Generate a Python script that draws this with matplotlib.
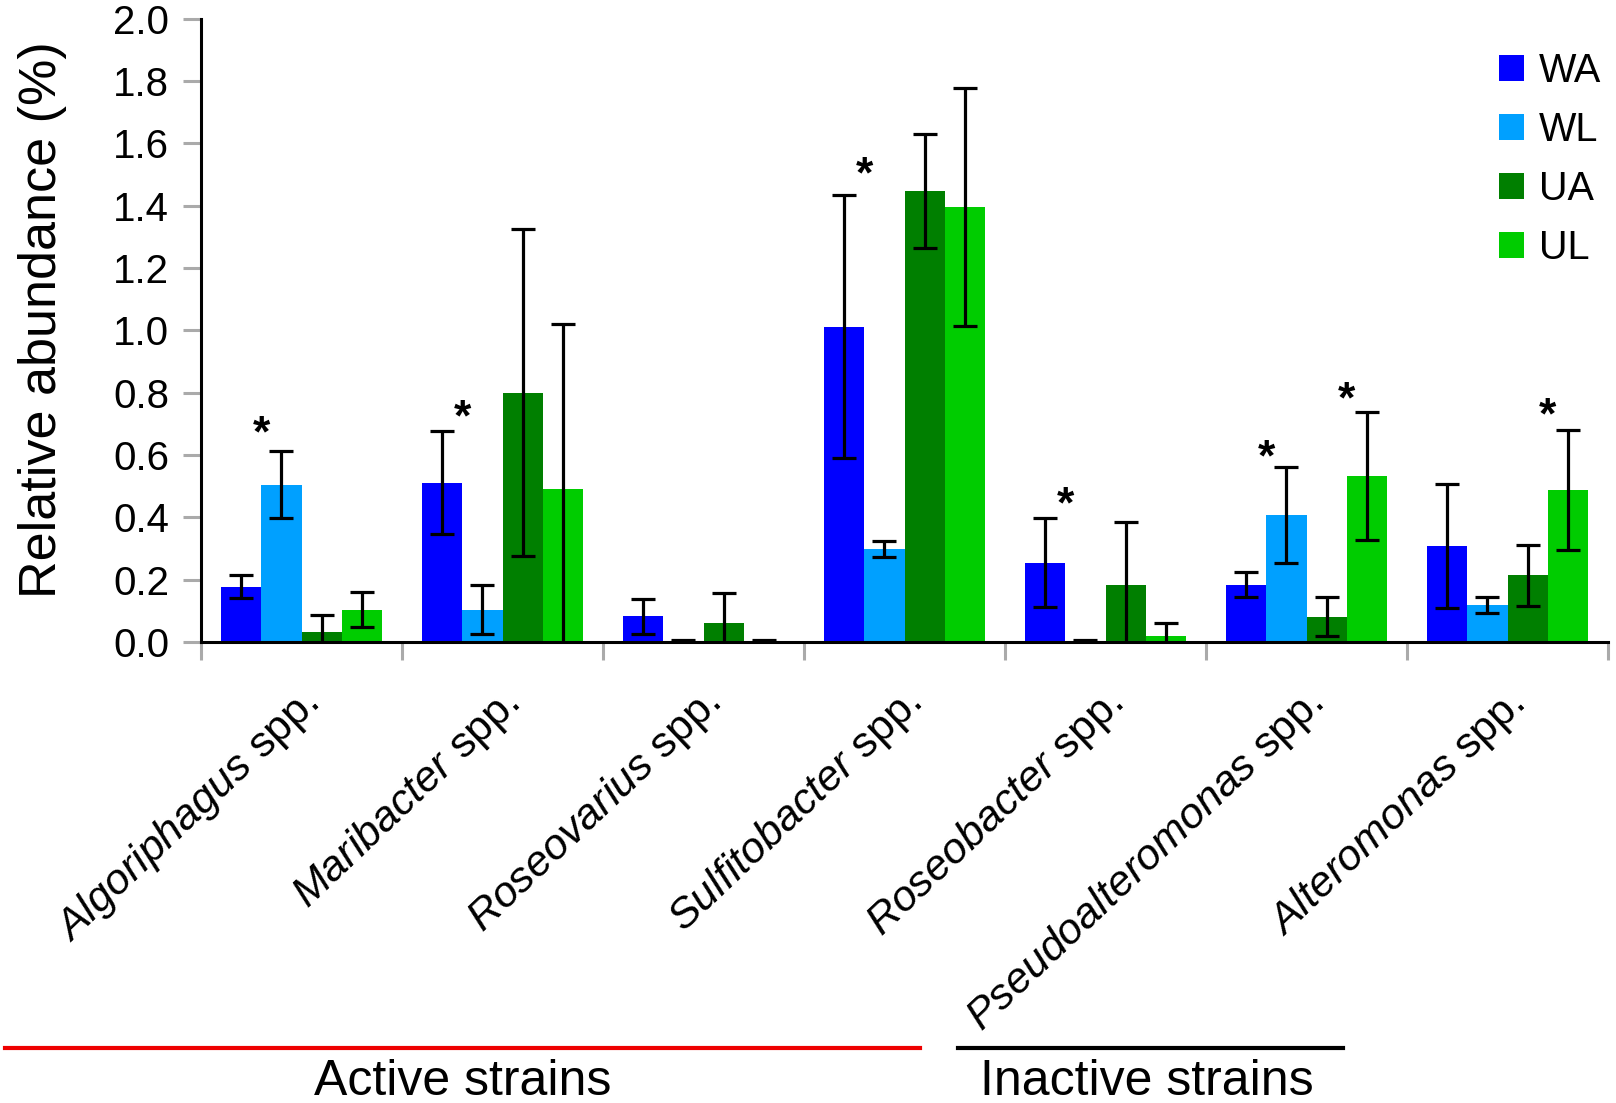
import matplotlib
matplotlib.use("Agg")
import matplotlib.pyplot as plt
from matplotlib import font_manager
from matplotlib.lines import Line2D
from matplotlib.patches import Patch
import numpy as np

# ── data ─────────────────────────────────
genera = ["Algoriphagus", "Maribacter", "Roseovarius", "Sulfitobacter",
          "Roseobacter", "Pseudoalteromonas", "Alteromonas"]
series = ["WA", "WL", "UA", "UL"]

wa = [0.177, 0.511, 0.083, 1.012, 0.255, 0.184, 0.308]
wa_err = [0.037, 0.165, 0.056, 0.422, 0.142, 0.040, 0.198]
wl = [0.505, 0.104, 0.003, 0.298, 0.003, 0.407, 0.119]
wl_err = [0.107, 0.079, 0.002, 0.026, 0.002, 0.155, 0.025]
ua = [0.031, 0.800, 0.062, 1.448, 0.184, 0.081, 0.214]
ua_err = [0.055, 0.525, 0.095, 0.183, 0.200, 0.062, 0.098]
ul = [0.104, 0.490, 0.003, 1.395, 0.019, 0.532, 0.488]
ul_err = [0.055, 0.530, 0.002, 0.382, 0.042, 0.205, 0.192]

# significance stars: (genus index, pair 0 = WA/WL, 1 = UA/UL, height)
star_group = [0, 1, 3, 4, 5, 5, 6]
star_pair = [0, 0, 0, 0, 0, 1, 1]
star_y = [0.695, 0.748, 1.526, 0.467, 0.618, 0.803, 0.752]

colors = ["#0000FF", "#00A0FF", "#007F00", "#00CC00"]

# ── fonts ────────────────────────────────
names = {f.name for f in font_manager.fontManager.ttflist}
base = "Liberation Sans" if "Liberation Sans" in names else "DejaVu Sans"
plt.rcParams["font.family"] = [base, "DejaVu Sans"]
plt.rcParams["mathtext.fontset"] = "custom"
plt.rcParams["mathtext.rm"] = base
plt.rcParams["mathtext.it"] = base + ":italic"

GRAY = "#AAAAAA"
W, H = 1616, 1103

fig = plt.figure(figsize=(W / 100, H / 100), dpi=100)
ax = fig.add_axes([201 / W, 1 - 642 / H, 1407 / W, 623.5 / H])

x = np.arange(len(genera))
w = 0.2
vals = [wa, wl, ua, ul]
errs = [wa_err, wl_err, ua_err, ul_err]
for i, (v, e) in enumerate(zip(vals, errs)):
    pos = x + (i - 1.5) * w
    ax.bar(pos, v, width=w, color=colors[i], edgecolor="none", zorder=2)
    ax.errorbar(pos, v, yerr=e, fmt="none", ecolor="black",
                elinewidth=2.3, capsize=8.3, capthick=2.3, zorder=3)

for g, p, yv in zip(star_group, star_pair, star_y):
    ax.annotate("*", (g - 0.2 + 0.4 * p, yv), xytext=(0, -7),
                textcoords="offset points", ha="center", va="center",
                fontsize=32, fontweight="bold", zorder=4)

ax.set_xlim(-0.5, len(genera) - 0.5)
ax.set_ylim(0, 2.0)
ax.set_yticks(np.arange(0, 2.01, 0.2))
ax.set_yticklabels([f"{t:.1f}" for t in np.arange(0, 2.01, 0.2)])
ax.set_xticks(np.arange(-0.5, len(genera), 1.0))
ax.set_xticklabels([])
ax.tick_params(axis="y", direction="out", length=13, width=2.2, color=GRAY,
               labelsize=29, pad=10)
ax.tick_params(axis="x", direction="out", length=13, width=2.2, color=GRAY)

for s in ["top", "right"]:
    ax.spines[s].set_visible(False)
for s in ["left", "bottom"]:
    ax.spines[s].set_linewidth(2.2)
    ax.spines[s].set_color("black")

ax.set_ylabel("Relative abundance (%)", fontsize=37.5, labelpad=33)
ax.yaxis.label.set_y(0.517)

# rotated genus labels
for xi, name in zip(x, genera):
    ax.text(xi + 0.055, -0.09, rf"$\mathit{{{name}}}\ \mathrm{{spp.}}$",
            rotation=43.5, rotation_mode="anchor", ha="right", va="center",
            fontsize=31, transform=ax.get_xaxis_transform())

# legend
handles = [Patch(facecolor=c, edgecolor="none") for c in colors]
fig.legend(handles, series, loc="upper left",
           bbox_to_anchor=(1499 / W, 1 - 52 / H), frameon=False,
           fontsize=28.5, handlelength=0.63, handleheight=0.63,
           handletextpad=0.38, labelspacing=0.53, borderpad=0,
           borderaxespad=0)

# strain group brackets
fig.add_artist(Line2D([5 / W, 920 / W], [1 - 1048 / H] * 2,
                      color="#EE0000", linewidth=3))
fig.add_artist(Line2D([958 / W, 1343 / W], [1 - 1048 / H] * 2,
                      color="black", linewidth=3))
fig.text(463 / W, 1 - 1082 / H, "Active strains", ha="center",
         va="center", fontsize=36)
fig.text(1147 / W, 1 - 1082 / H, "Inactive strains", ha="center",
         va="center", fontsize=36)

fig.savefig("out.png", dpi=100, facecolor="white")
